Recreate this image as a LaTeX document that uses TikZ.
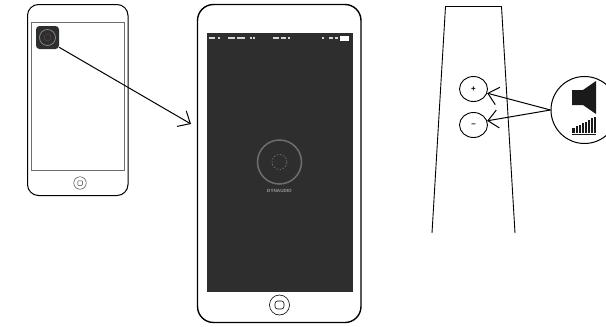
\documentclass[tikz,border=0pt]{standalone}
\usepackage{fontspec}
\setsansfont{Liberation Sans}
\usetikzlibrary{shapes.geometric, arrows.meta, positioning}
\definecolor{screendark}{HTML}{2E2E2E}
\definecolor{ringgray}{HTML}{6E6E6E}
\definecolor{icondark}{HTML}{1A1A1A}
\begin{document}
\begin{tikzpicture}[x=1pt, y=-1pt,
    phonebox/.style={draw, rectangle, rounded corners=11pt, fill=white, inner sep=0pt, line width=1pt},
    ring/.style={draw, circle, inner sep=0pt},
    terminal/.style={draw, ellipse, inner sep=0pt, minimum width=28pt, minimum height=25pt, line width=0.9pt, font=\sffamily\bfseries\fontsize{8}{8}\selectfont},
    link/.style={line width=1pt, -{Straight Barb[length=10pt, width=18pt, line width=1pt]}}]
    \useasboundingbox (0,0) rectangle (606,327);
    % small phone
    \node (smallphone) [phonebox, minimum width=100.5pt, minimum height=191pt] at (77.75,100) {};
    \node (smallscreen) [draw=ringgray, rectangle, inner sep=0pt, line width=0.8pt, minimum width=93pt, minimum height=148pt] at (78,96.5) {};
    \node (appicon) [rectangle, rounded corners=3.5pt, fill=screendark, inner sep=0pt, minimum size=23pt] at (47.5,37.5) {};
    \node (appring) [ring, draw=ringgray!80!white, line width=0.7pt, minimum size=16pt] at (appicon.center) {};
    \node (appdot) [ring, draw=ringgray!80!red, dashed, dash pattern=on 0.8pt off 0.8pt, line width=0.4pt, minimum size=7pt] at (appicon.center) {};
    \node (smallhome) [ring, draw=black!70, line width=0.5pt, minimum size=12.5pt] at (80,183) {};
    \node (smallkey) [draw=black!80, rectangle, rounded corners=0.6pt, line width=0.5pt, inner sep=0pt, minimum size=4.5pt] at (smallhome.center) {};

    % large phone
    \node (largephone) [phonebox, rounded corners=16pt, line width=1.4pt, minimum width=163.5pt, minimum height=318pt] at (279.25,163.5) {};
    \node (largescreen) [rectangle, fill=screendark, inner sep=0pt, minimum width=146pt, minimum height=259pt] at (280,162.5) {};
    \foreach \x/\w in {209/6, 218/2, 228/7, 237/8, 250/1.5, 253/1.5, 273/6, 281/5, 288/1.5, 322/1.5, 329/4, 335/3}
        \fill[white!80!screendark] (\x,36.8) rectangle ++(\w,2.4);
    \node (battery) [rectangle, fill=white, inner sep=0pt, minimum width=9pt, minimum height=5pt] at (344.5,38) {};
    \node (logoring) [ring, draw=ringgray, line width=1.5pt, minimum size=44pt] at (279.5,162) {};
    \node (logodot) [ring, draw=ringgray!85!white, dashed, dash pattern=on 1.6pt off 1.6pt, line width=0.5pt, minimum size=15pt] at (logoring.center) {};
    \node (logotext) [text=ringgray!70!white, font=\sffamily\bfseries\fontsize{4.6}{5}\selectfont, inner sep=0pt] at (279.5,190.5) {DYNAUDIO};
    \node (largehome) [ring, line width=0.6pt, minimum size=20pt] at (279.5,305) {};
    \node (largekey) [draw, rectangle, rounded corners=2.5pt, line width=0.6pt, inner sep=0pt, minimum width=9pt, minimum height=8pt] at (largehome.center) {};

    % loudspeaker
    \coordinate (towerleft) at (432,233);
    \coordinate (towerright) at (515,233);
    \draw [line width=0.9pt] (towerleft) -- (445.5,6.5) -- (501.5,6.5) -- (towerright);
    \node (plus) [terminal, fill=white] at (473.5,89) {+};
    \node (minus) [terminal, fill=white] at (473.5,125) {–};

    % volume badge
    \node (volume) [ring, fill=white, line width=1pt, minimum size=67pt] at (584.5,110) {};
    \fill[icondark] (572,90) -- (583,90) -- (596,81) -- (596,114) -- (583,105) -- (572,105) -- cycle;
    \foreach \i in {0,...,7}
        \fill[icondark] (572.4+3.1*\i,132.5) rectangle ++(2.2,-4.5-1.6*\i);
    \draw [icondark, line width=0.9pt] (572,134.8) -- (596,134.8);

    \coordinate (phonetarget) at (191,124);
    \draw [link] (appicon.-40) -- (phonetarget);
    \draw [link] (volume.west) -- (plus.-17);
    \draw [link] (volume.west) -- (minus.17);
\end{tikzpicture}
\end{document}
